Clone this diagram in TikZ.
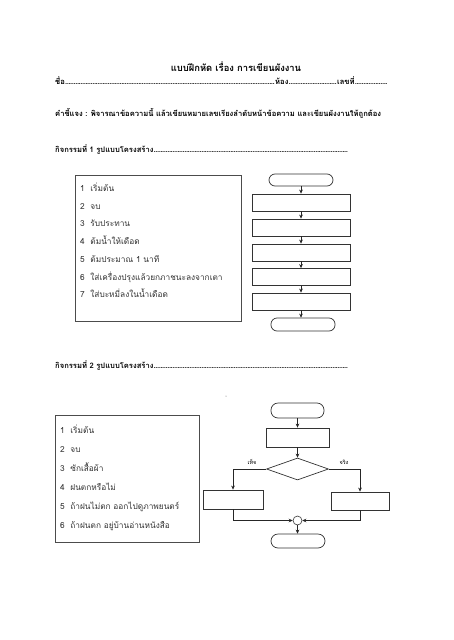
\documentclass[tikz,border=0pt]{standalone}
\usepackage{fontspec}
\newfontfamily\thai[Script=Thai]{Loma}
\usetikzlibrary{arrows.meta,shapes.geometric,calc}
\newcommand\dotlead[1]{\makebox[#1]{\leaders\hbox to 1.7pt{\hss.\hss}\hfill}}
\begin{document}
\begin{tikzpicture}[x=1pt,y=-1pt,
  hd/.style={font=\thai\bfseries\fontsize{7.6}{9}\selectfont, inner sep=0pt, anchor=base west},
  ttl/.style={font=\thai\bfseries\fontsize{9.4}{10}\selectfont, inner sep=0pt},
  item/.style={font=\thai\fontsize{8.3}{9}\selectfont, text=black!80, inner sep=0pt, anchor=base west},
  lbl/.style={font=\thai\fontsize{5.5}{6}\selectfont, inner sep=0pt},
  frame/.style={draw=black!70, line width=0.7pt, inner sep=0pt},
  box/.style={draw=black!80, line width=0.8pt, inner sep=0pt},
  term/.style={draw=black!80, line width=0.7pt, inner sep=0pt, rounded corners=6pt},
  arr/.style={draw=black!85, line width=0.6pt, -{Stealth[length=4pt,width=3.6pt]}},
  ln/.style={draw=black!85, line width=0.6pt}]
\useasboundingbox[fill=white] (0,0) rectangle (453,640);

% header
\node[ttl] (title) at (236,67) {แบบฝึกหัด เรื่อง การเขียนผังงาน};
\node[hd] (nm) at (55,84) {ชื่อ};
\node[hd] (rm) at (275,84) {ห้อง};
\node[hd] (no) at (337,84) {เลขที่};
\coordinate (nmend) at (388,84);
\path let \p1=(nm.base east), \p2=(rm.base west) in node[hd] (d1) at (\p1) {\dotlead{\dimexpr\x2-\x1\relax}};
\path let \p1=(rm.base east), \p2=(no.base west) in node[hd] (d2) at (\p1) {\dotlead{\dimexpr\x2-\x1\relax}};
\path let \p1=(no.base east), \p2=(nmend) in node[hd] (d3) at (\p1) {\dotlead{\dimexpr\x2-\x1\relax}};

\node[hd] (instr) at (55,116) {คำชี้แจง : พิจารณาข้อความนี้ แล้วเขียนหมายเลขเรียงลำดับหน้าข้อความ และเขียนผังงานให้ถูกต้อง};

\node[hd] (act1) at (55,152) {กิจกรรมที่ 1 รูปแบบโครงสร้าง};
\coordinate (act1end) at (348,152);
\path let \p1=(act1.base east), \p2=(act1end) in node[hd] (d4) at (\p1) {\dotlead{\dimexpr\x2-\x1\relax}};

% activity 1 list
\node[frame, minimum width=166pt, minimum height=146pt] (box1) at (158,248) {};
\node[item] (a1) at (80,191) {1\ \ เริ่มต้น};
\node[item] (a2) at (80,209) {2\ \ จบ};
\node[item] (a3) at (80,226.5) {3\ \ รับประทาน};
\node[item] (a4) at (80,244.5) {4\ \ ต้มน้ำให้เดือด};
\node[item] (a5) at (80,262.5) {5\ \ ต้มประมาณ 1 นาที};
\node[item] (a6) at (80,280) {6\ \ ใส่เครื่องปรุงแล้วยกภาชนะลงจากเตา};
\node[item] (a7) at (80,297.5) {7\ \ ใส่บะหมี่ลงในน้ำเดือด};

% activity 1 flowchart
\node[term, minimum width=64pt, minimum height=12pt] (t1) at (301,180) {};
\node[box, minimum width=98pt, minimum height=17pt] (r1) at (301,202.5) {};
\node[box, minimum width=98pt, minimum height=17pt] (r2) at (301,227.5) {};
\node[box, minimum width=98pt, minimum height=17pt] (r3) at (301,252.5) {};
\node[box, minimum width=98pt, minimum height=17pt] (r4) at (301,277) {};
\node[box, minimum width=98pt, minimum height=17pt] (r5) at (301,301.5) {};
\node[term, minimum width=64pt, minimum height=13pt] (t2) at (303,324.5) {};
\draw[arr] (t1.south) -- (r1.north);
\draw[arr] (r1.south) -- (r2.north);
\draw[arr] (r2.south) -- (r3.north);
\draw[arr] (r3.south) -- (r4.north);
\draw[arr] (r4.south) -- (r5.north);
\draw[arr] (r5.south) -- (r5.south |- t2.north);

% activity 2
\node[hd] (act2) at (55,368) {กิจกรรมที่ 2 รูปแบบโครงสร้าง};
\coordinate (act2end) at (348,368);
\path let \p1=(act2.base east), \p2=(act2end) in node[hd] (d5) at (\p1) {\dotlead{\dimexpr\x2-\x1\relax}};
\fill[black!60] (226,396) circle (0.5pt);

\node[frame, minimum width=144pt, minimum height=127pt] (box2) at (127,478.5) {};
\node[item] (b1) at (60,433) {1\ \ เริ่มต้น};
\node[item] (b2) at (60,452) {2\ \ จบ};
\node[item] (b3) at (60,471) {3\ \ ซักเสื้อผ้า};
\node[item] (b4) at (60,490) {4\ \ ฝนตกหรือไม่};
\node[item] (b5) at (60,509) {5\ \ ถ้าฝนไม่ตก ออกไปดูภาพยนตร์};
\node[item] (b6) at (60,528) {6\ \ ถ้าฝนตก อยู่บ้านอ่านหนังสือ};

% activity 2 flowchart
\node[term, rounded corners=7pt, minimum width=53pt, minimum height=15pt] (s) at (297.5,410.5) {};
\node[box, minimum width=63pt, minimum height=19pt] (p) at (297.5,437.5) {};
\node[draw=black!80, line width=0.7pt, diamond, inner sep=0pt, minimum width=62pt, minimum height=22pt] (d) at (297.5,469) {};
\node[box, minimum width=60pt, minimum height=19pt] (L) at (233,499.5) {};
\node[box, minimum width=58pt, minimum height=18pt] (R) at (360,501) {};
\node[draw=black!80, line width=0.6pt, circle, inner sep=0pt, minimum size=9pt] (c) at (297.5,520.5) {};
\node[term, rounded corners=7pt, minimum width=54pt, minimum height=14pt] (e) at (298,541) {};
\node[lbl] (f) at (252,462) {เท็จ};
\node[lbl] (tr) at (344,462) {จริง};
\draw[arr] (s.south) -- (p.north);
\draw[arr] (p.south) -- (d.north);
\draw[arr] (d.west) -| (L.north);
\draw[arr] (d.east) -| (R.north);
\draw[arr] (L.south) |- (c.west);
\draw[arr] (R.south) |- (c.east);
\draw[arr] (c.south) -- (c.south |- e.north);
\end{tikzpicture}
\end{document}
